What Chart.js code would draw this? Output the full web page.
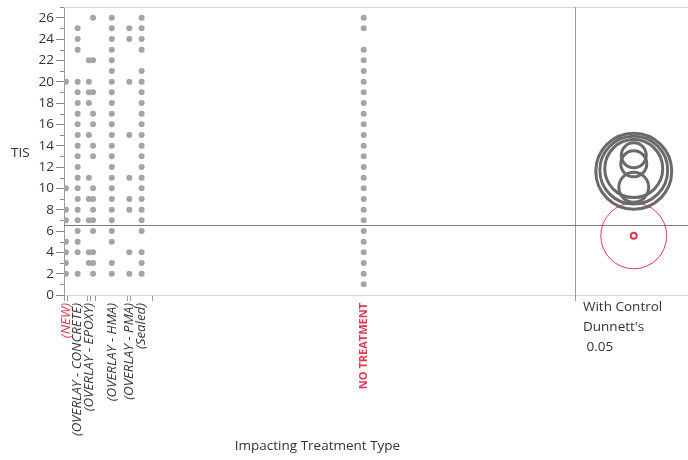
<!DOCTYPE html>
<html>
<head>
<meta charset="utf-8">
<script src="https://cdn.jsdelivr.net/npm/chart.js@4.4.1/dist/chart.umd.min.js"></script>
<style>
  html, body { margin: 0; padding: 0; background: #ffffff; }
  #wrap { width: 688px; height: 460px; position: relative; }
</style>
</head>
<body>
<div id="wrap"><canvas id="c" width="688" height="460"></canvas></div>
<script>
// Treatment groups (one group's name is not shown on the axis)
const groups = ['(NEW)', '(OVERLAY - CONCRETE)', '(OVERLAY - EPOXY)', '', '(OVERLAY - HMA)', '(OVERLAY - PMA)', '(Sealed)', 'NO TREATMENT'];
// Group sizes: the x axis gives each group a width proportional to its count
const groupN = [13, 65, 10, 18, 107, 10, 72, 1410];

// Observed TIS values per group
const tisNew       = [20, 10, 8, 7, 5, 4, 3, 2];
const tisConcrete  = [25, 24, 23, 20, 19, 18, 17, 16, 15, 14, 13, 12, 11, 10, 9, 8, 7, 6, 5, 4, 2];
const tisEpoxy     = [22, 20, 19, 18, 15, 11, 9, 7, 4, 3];
const tisUnnamed   = [26, 22, 19, 17, 16, 14, 13, 10, 9, 8, 7, 6, 4, 3, 2];
const tisHma       = [26, 25, 24, 23, 22, 21, 20, 19, 18, 17, 16, 15, 14, 13, 12, 11, 10, 9, 8, 7, 6, 5, 3, 2];
const tisPma       = [25, 24, 20, 15, 11, 9, 8, 4, 2];
const tisSealed    = [26, 25, 24, 23, 21, 20, 19, 18, 17, 16, 15, 14, 13, 12, 11, 10, 9, 8, 7, 6, 4, 3, 2];
const tisNoTreat   = [26, 25, 23, 22, 21, 20, 19, 18, 17, 16, 15, 14, 13, 12, 11, 10, 9, 8, 7, 6, 5, 4, 3, 2, 1];
const tisByGroup = [tisNew, tisConcrete, tisEpoxy, tisUnnamed, tisHma, tisPma, tisSealed, tisNoTreat];

// Dunnett's comparison circles (with control, alpha 0.05): centre = group mean, radius in TIS units
const circleMean   = [5.55, 10.1, 11.6, 11.85, 13.1, 11.7, 12.3, 5.55];
const circleRadius = [3.09, 1.40, 3.56, 2.72, 1.17, 3.18, 1.22, 0.28];
const notDifferent = [true, false, false, false, false, false, false, true];

const grandMean = 6.52;
const yMin = 0, yMax = 27;

// ---- layout helpers ----
const RED = '#e4374f';
const GREY_DOT = '#a4a4a4';
const GREY_RING = '#6a6a6a';
const FONT = "'Segoe UI', 'Open Sans', sans-serif";

const total = groupN.reduce((a, b) => a + b, 0);
const bounds = [0];
groupN.forEach(n => bounds.push(bounds[bounds.length - 1] + n));
const centers = groupN.map((n, i) => bounds[i] + n / 2);
const LEFT_PANEL_SHARE = 511 / 624;           // share of the plot width used by the group axis
const xMax = total / LEFT_PANEL_SHARE;
const circleX = total + (xMax - total) * 0.52; // circles sit in the side panel

const pointData = [];
tisByGroup.forEach((vals, g) => vals.forEach(v => pointData.push({ x: centers[g], y: v })));
const circleData = circleMean.map(m => ({ x: circleX, y: m }));

function ringPixels(ctx) {
  const ys = ctx.chart.scales.y;
  const r = circleRadius[ctx.dataIndex];
  if (!ys || r === undefined) return 0;
  const px = Math.abs(ys.getPixelForValue(0) - ys.getPixelForValue(r));
  return isFinite(px) ? px : 0;
}

const decorPlugin = {
  id: 'decor',
  beforeDatasetsDraw(chart) {
    const { ctx, chartArea: a, scales: { x, y } } = chart;
    ctx.save();
    // top frame line
    ctx.strokeStyle = '#d4d4d4';
    ctx.lineWidth = 1;
    ctx.beginPath(); ctx.moveTo(a.left, a.top + 0.5); ctx.lineTo(a.right, a.top + 0.5); ctx.stroke();
    // divider between group axis and comparison circles
    const xd = Math.round(x.getPixelForValue(total)) + 0.5;
    ctx.strokeStyle = '#9a9a9a';
    ctx.beginPath(); ctx.moveTo(xd, a.top); ctx.lineTo(xd, a.bottom + 6); ctx.stroke();
    // grand mean
    const ym = Math.round(y.getPixelForValue(grandMean)) + 0.5;
    ctx.strokeStyle = '#7a7a7a';
    ctx.beginPath(); ctx.moveTo(a.left, ym); ctx.lineTo(a.right, ym); ctx.stroke();
    ctx.restore();
  },
  afterDraw(chart) {
    const { ctx, chartArea: a, scales: { x, y } } = chart;
    ctx.save();
    // minor y ticks
    ctx.strokeStyle = '#8a8a8a';
    ctx.lineWidth = 1;
    for (let v = yMin + 1; v <= yMax; v += 2) {
      const py = Math.round(y.getPixelForValue(v)) + 0.5;
      ctx.beginPath(); ctx.moveTo(a.left - 4, py); ctx.lineTo(a.left, py); ctx.stroke();
    }
    ctx.fillStyle = '#333333';
    ctx.font = '13.5px ' + FONT;
    ctx.textBaseline = 'middle';
    ctx.textAlign = 'left';
    ctx.fillText('TIS', 11, 153);
    ctx.textAlign = 'center';
    const xl = x.getPixelForValue(0), xr = x.getPixelForValue(total);
    ctx.fillText('Impacting Treatment Type', (xl + xr) / 2 - 2, 446);
    ctx.textAlign = 'left';
    const tx = Math.round(xr) + 8;
    ctx.fillText('With Control', tx, 307);
    ctx.fillText("Dunnett's", tx, 327);
    ctx.fillText(' 0.05', tx, 347);
    ctx.restore();
  }
};

new Chart(document.getElementById('c'), {
  type: 'scatter',
  data: {
    datasets: [
      {
        data: pointData,
        pointRadius: 3,
        pointBackgroundColor: GREY_DOT,
        pointBorderWidth: 0,
        order: 2
      },
      {
        data: circleData,
        pointBackgroundColor: 'rgba(0,0,0,0)',
        pointBorderColor: ctx => notDifferent[ctx.dataIndex] ? RED : GREY_RING,
        pointBorderWidth: ctx => {
          const i = ctx.dataIndex;
          if (notDifferent[i]) return circleRadius[i] < 1 ? 2 : 1;
          return 3;
        },
        pointRadius: ringPixels,
        order: 1
      }
    ]
  },
  options: {
    responsive: false,
    animation: false,
    events: [],
    layout: { autoPadding: false, padding: { top: 7, right: 0, left: 0, bottom: 0 } },
    plugins: { legend: { display: false }, tooltip: { enabled: false } },
    scales: {
      x: {
        type: 'linear',
        min: 0,
        max: xMax,
        afterBuildTicks(scale) {
          scale.ticks = bounds.map(v => ({ value: v })).concat(centers.map(v => ({ value: v })));
        },
        afterFit(scale) { scale.height = 165; scale.paddingLeft = 0; scale.paddingRight = 0; },
        border: { color: '#d4d4d4' },
        grid: {
          drawOnChartArea: false,
          drawTicks: true,
          tickLength: 6,
          tickColor: ctx => ctx.index < bounds.length ? '#9a9a9a' : 'rgba(0,0,0,0)'
        },
        ticks: {
          autoSkip: false,
          minRotation: 90,
          maxRotation: 90,
          padding: 2,
          callback: (v, i) => i >= bounds.length ? groups[i - bounds.length] : '',
          color: ctx => {
            const g = ctx.index - bounds.length;
            return (g >= 0 && notDifferent[g]) ? RED : '#3a3a3a';
          },
          font: ctx => {
            const g = ctx.index - bounds.length;
            const last = g === groups.length - 1;
            return { family: FONT, size: last ? 11 : 13.3, style: last ? 'normal' : 'italic', weight: last ? 'bold' : 'normal' };
          }
        }
      },
      y: {
        type: 'linear',
        min: yMin,
        max: yMax,
        afterFit(scale) { scale.width = 64; scale.paddingTop = 0; scale.paddingBottom = 0; },
        border: { color: '#9a9a9a' },
        grid: {
          drawOnChartArea: false,
          drawTicks: true,
          tickLength: 8,
          tickColor: ctx => (ctx.tick && ctx.tick.value % 2 === 0) ? '#8a8a8a' : 'rgba(0,0,0,0)'
        },
        ticks: {
          stepSize: 1,
          autoSkip: false,
          padding: 2,
          color: '#333333',
          font: { family: FONT, size: 13.5 },
          callback: v => v % 2 === 0 ? String(v) : ''
        }
      }
    }
  },
  plugins: [decorPlugin]
});
</script>
</body>
</html>
